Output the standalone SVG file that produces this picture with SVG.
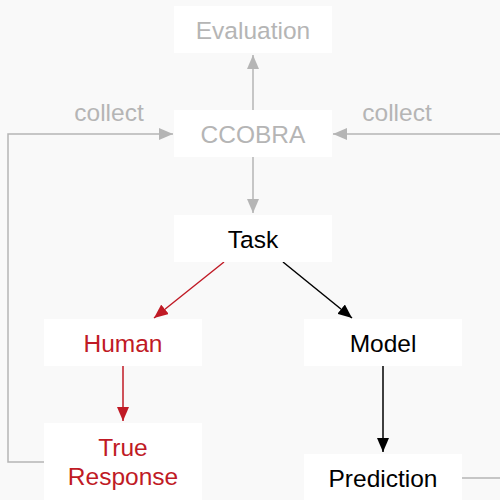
<svg xmlns="http://www.w3.org/2000/svg" width="500" height="500" viewBox="0 0 500 500">
<defs>
<style>
text{font-family:"Liberation Sans",Arial,sans-serif;font-size:24.5px;text-anchor:middle}
.box{fill:#ffffff}
.g{fill:#b5b5b5}
.k{fill:#000000}
.r{fill:#c01a25}
.lg{stroke:#b5b5b5;stroke-width:1.5;fill:none}
.lk{stroke:#000;stroke-width:1.5;fill:none}
.lr{stroke:#c01a25;stroke-width:1.5;fill:none}
</style>
<marker id="ag" viewBox="0 0 14 12" refX="14" refY="6" markerWidth="14" markerHeight="12" markerUnits="userSpaceOnUse" orient="auto"><path d="M0,0L14,6L0,12z" fill="#b5b5b5"/></marker>
<marker id="ak" viewBox="0 0 14 12" refX="14" refY="6" markerWidth="14" markerHeight="12" markerUnits="userSpaceOnUse" orient="auto"><path d="M0,0L14,6L0,12z" fill="#000"/></marker>
<marker id="ar" viewBox="0 0 14 12" refX="14" refY="6" markerWidth="14" markerHeight="12" markerUnits="userSpaceOnUse" orient="auto"><path d="M0,0L14,6L0,12z" fill="#c01a25"/></marker>
</defs>
<rect width="500" height="500" fill="#f9f9f9"/>
<g id="connectors">
<path class="lg" d="M253,110V55" marker-end="url(#ag)"/>
<path class="lg" d="M253,157V213" marker-end="url(#ag)"/>
<path class="lg" d="M44,462H8V134H173" marker-end="url(#ag)"/>
<path class="lg" d="M500,134H333" marker-end="url(#ag)"/>
<path class="lg" d="M462,478H500"/>
<path class="lr" d="M224,262L154,318" marker-end="url(#ar)"/>
<path class="lk" d="M283,262L352,318" marker-end="url(#ak)"/>
<path class="lr" d="M123,366V421" marker-end="url(#ar)"/>
<path class="lk" d="M383,366V452" marker-end="url(#ak)"/>
<text class="g" x="109" y="121">collect</text>
<text class="g" x="397" y="121">collect</text>
</g>
<g id="evaluation"><rect class="box" x="174" y="6" width="158" height="47"/><text class="g" x="253" y="39">Evaluation</text></g>
<g id="ccobra"><rect class="box" x="174" y="110" width="158" height="47"/><text class="g" x="253" y="143">CCOBRA</text></g>
<g id="task"><rect class="box" x="174" y="215" width="158" height="47"/><text class="k" x="253" y="248">Task</text></g>
<g id="human"><rect class="box" x="44" y="319" width="158" height="47"/><text class="r" x="123" y="352">Human</text></g>
<g id="model"><rect class="box" x="304" y="319" width="158" height="47"/><text class="k" x="383" y="352">Model</text></g>
<g id="true-response"><rect class="box" x="44" y="423" width="158" height="80"/><text class="r" x="123" y="456">True</text><text class="r" x="123" y="485">Response</text></g>
<g id="prediction"><rect class="box" x="304" y="454" width="158" height="50"/><text class="k" x="383" y="487">Prediction</text></g>
</svg>
